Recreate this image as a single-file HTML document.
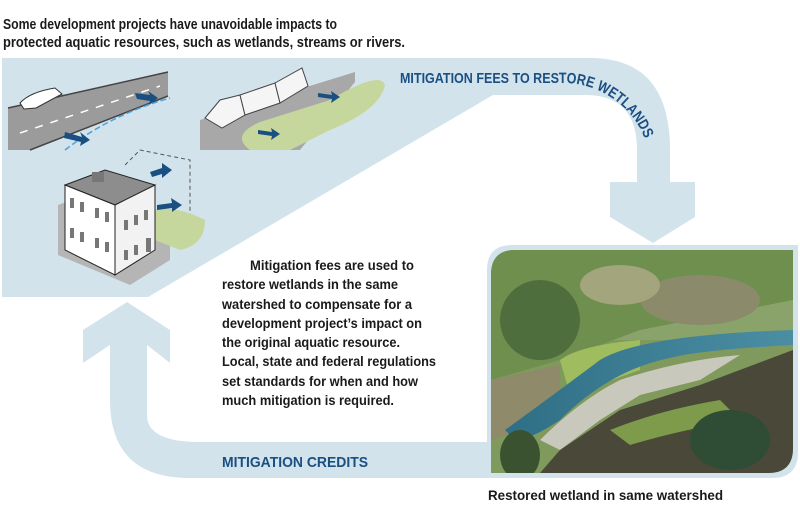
<!DOCTYPE html>
<html><head><meta charset="utf-8"><style>
html,body{margin:0;padding:0;background:#fff;}
svg{display:block;font-family:"Liberation Sans",sans-serif;}
</style></head><body>
<svg width="800" height="525" viewBox="0 0 800 525" xmlns="http://www.w3.org/2000/svg">
<defs>
<clipPath id="ph"><path d="M515,250 H793 V448 Q793,473 768,473 H491 V275 Q491,250 515,250 Z"/></clipPath>
<linearGradient id="riv" x1="0" y1="0" x2="1" y2="0"><stop offset="0" stop-color="#2f6f86"/><stop offset="1" stop-color="#4b8ea3"/></linearGradient>
</defs>
<path d="M2,58 H590 Q670,58 670,150 V182 H695 V217 L653,243 L610,217 V182 H637 V150 Q637,95 585,95 H493 L148,297 H2 Z" fill="#d3e3ec"/>
<path d="M127,302 L170,330 V363 L147,345 V415 Q147,442 200,442 H490 V478 H190 Q110,478 110,400 V345 L83,363 V330 Z" fill="#d3e3ec"/>
<path d="M512,245 H798 V452 Q798,478 772,478 H487 V270 Q487,245 512,245 Z" fill="#d3e3ec"/>
<g clip-path="url(#ph)">
<rect x="491" y="250" width="302" height="223" fill="#7f9a5c"/>
<rect x="491" y="250" width="302" height="90" fill="#8aa36a"/>
<path d="M491,250 H793 V300 L640,330 L560,360 L491,380 Z" fill="#6f8f4e"/>
<ellipse cx="540" cy="320" rx="40" ry="40" fill="#4f6e3e"/>
<ellipse cx="700" cy="300" rx="60" ry="25" fill="#8b8a6a"/>
<ellipse cx="620" cy="285" rx="40" ry="20" fill="#a3a57c"/>
<path d="M560,360 Q580,345 640,340 L640,370 L570,395 Z" fill="#9fbc5e"/>
<path d="M491,380 L560,365 L560,420 L491,440 Z" fill="#8f8a6a"/>
<path d="M505,430 Q560,390 600,360 Q640,335 793,330 V345 Q700,350 670,358 Q610,370 560,420 Q530,440 515,440 Z" fill="url(#riv)"/>
<path d="M540,440 Q580,400 620,380 Q680,360 740,355 L700,380 L640,395 L600,420 L560,450 Z" fill="#c9c8bc"/>
<path d="M560,450 L620,410 L700,385 L793,350 V473 H540 Z" fill="#4a4838"/>
<path d="M610,430 Q660,410 720,400 L740,420 Q680,430 630,445 Z" fill="#7d9b4a"/>
<ellipse cx="730" cy="440" rx="40" ry="30" fill="#2f4d34"/>
<ellipse cx="520" cy="455" rx="20" ry="25" fill="#3a5230"/>
</g>
<!-- road 1 -->
<path d="M8,108 L168,72 V96 L30,150 H8 Z" fill="#9b9b9b"/>
<path d="M8,108 L168,72 M30,150 L168,96" stroke="#444" stroke-width="1.5"/>
<path d="M20,133 L160,86" stroke="#fff" stroke-width="1.5" stroke-dasharray="8 8"/>
<path d="M65,150 Q110,115 170,98" stroke="#4aa3e0" stroke-width="1.5" fill="none" stroke-dasharray="6 3"/>
<path d="M20,103 Q30,92 55,88 L62,94 L36,108 L24,109 Z" fill="#fff" stroke="#333" stroke-width="1"/>
<path d="M135,93 L150,95 L148,91 L158,98 L149,105 L150,101 L137,99 Z" fill="#1a4f82"/>
<path d="M65,132 L82,137 L80,132 L90,140 L80,146 L81,142 L64,138 Z" fill="#1a4f82"/>
<!-- rail + wetland -->
<path d="M200,150 V120 L355,72 V82 L300,150 Z" fill="#a8a8a8"/>
<path d="M250,150 Q230,135 260,122 L330,100 Q380,70 385,85 Q380,110 330,130 L290,150 Z" fill="#c6d79d"/>
<path d="M205,118 L220,100 L240,95 L245,115 L222,128 Z" fill="#f5f5f5" stroke="#444" stroke-width="1"/>
<path d="M240,95 L275,83 L280,103 L245,115 Z" fill="#f5f5f5" stroke="#444" stroke-width="1"/>
<path d="M275,83 L302,68 L308,86 L280,103 Z" fill="#f5f5f5" stroke="#444" stroke-width="1"/>
<path d="M258,130 L272,132 L271,128 L280,134 L271,140 L272,136 L258,134 Z" fill="#1a4f82"/>
<path d="M318,93 L332,95 L331,91 L340,97 L331,103 L332,99 L318,97 Z" fill="#1a4f82"/>
<!-- building -->
<path d="M58,255 V205 L100,190 L170,215 L170,260 L130,285 Z" fill="#b5b5b5"/>
<path d="M125,165 L140,150 L190,160 L190,230 L160,240" fill="none" stroke="#555" stroke-width="1" stroke-dasharray="4 3"/>
<path d="M155,210 Q175,205 205,220 Q205,245 180,250 L155,240 Z" fill="#c6d79d"/>
<path d="M65,185 L105,170 L155,185 L115,205 Z" fill="#8d8d8d" stroke="#222"/>
<rect x="92" y="172" width="12" height="10" fill="#777"/>
<path d="M65,185 L115,205 V275 L65,250 Z" fill="#fff" stroke="#222"/>
<path d="M115,205 L155,185 V250 L115,275 Z" fill="#f2f2f2" stroke="#222"/>
<g fill="#777">
<rect x="70" y="198" width="4" height="10"/><rect x="80" y="202" width="4" height="10"/><rect x="95" y="208" width="4" height="10"/><rect x="105" y="212" width="4" height="10"/>
<rect x="70" y="228" width="4" height="10"/><rect x="80" y="232" width="4" height="10"/><rect x="95" y="238" width="4" height="10"/><rect x="105" y="242" width="4" height="10"/>
<rect x="124" y="220" width="4" height="10"/><rect x="134" y="215" width="4" height="10"/><rect x="144" y="210" width="4" height="10"/>
<rect x="124" y="250" width="4" height="10"/><rect x="134" y="245" width="4" height="10"/><rect x="146" y="238" width="5" height="14"/>
</g>
<path d="M150,172 L162,168 L162,163 L172,170 L162,178 L162,174 L152,177 Z" fill="#1a4f82"/>
<path d="M157,205 L172,203 L171,198 L182,205 L172,212 L172,208 L157,210 Z" fill="#1a4f82"/>
<g font-weight="bold" font-size="14.3" fill="#1a1a1a">
<text x="3" y="29" textLength="334" lengthAdjust="spacingAndGlyphs">Some development projects have unavoidable impacts to</text>
<text x="3" y="47" textLength="402" lengthAdjust="spacingAndGlyphs">protected aquatic resources, such as wetlands, streams or rivers.</text>
</g>
<g font-weight="bold" font-size="14" fill="#1a1a1a">
<text x="250" y="270" textLength="164" lengthAdjust="spacingAndGlyphs">Mitigation fees are used to</text>
<text x="222" y="289" textLength="176" lengthAdjust="spacingAndGlyphs">restore wetlands in the same</text>
<text x="222" y="309" textLength="190" lengthAdjust="spacingAndGlyphs">watershed to compensate for a</text>
<text x="222" y="328" textLength="200" lengthAdjust="spacingAndGlyphs">development project’s impact on</text>
<text x="222" y="347" textLength="178" lengthAdjust="spacingAndGlyphs">the original aquatic resource.</text>
<text x="222" y="366" textLength="214" lengthAdjust="spacingAndGlyphs">Local, state and federal regulations</text>
<text x="222" y="386" textLength="196" lengthAdjust="spacingAndGlyphs">set standards for when and how</text>
<text x="222" y="405" textLength="172" lengthAdjust="spacingAndGlyphs">much mitigation is required.</text>
<text x="488" y="500" textLength="235" lengthAdjust="spacingAndGlyphs">Restored wetland in same watershed</text>
</g>
<g font-weight="bold" font-size="15" fill="#1a4f82">
<text x="222" y="467" textLength="146" lengthAdjust="spacingAndGlyphs">MITIGATION CREDITS</text>
<path id="tp" d="M400,83 H560 A88,88 0 0 1 650,158" fill="none"/>
<text><textPath href="#tp" textLength="268" lengthAdjust="spacingAndGlyphs">MITIGATION FEES TO RESTORE WETLANDS</textPath></text>
</g>
</svg>
</body></html>
